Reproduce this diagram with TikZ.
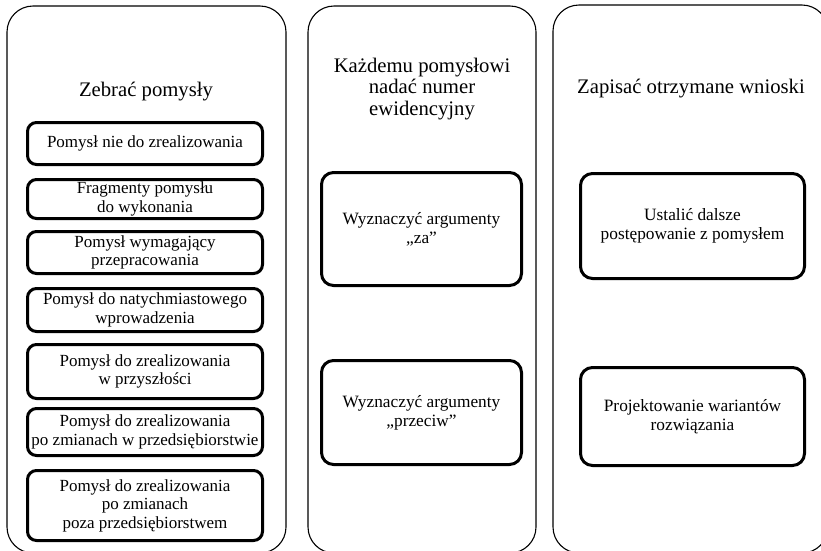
\documentclass[tikz,border=0pt]{standalone}
\usepackage{fontspec}
\setmainfont{Liberation Serif}
\usetikzlibrary{positioning}

\begin{document}
\begin{tikzpicture}[x=1pt, y=-1pt,
  column/.style={draw, line width=1.1pt, rounded corners=26pt},
  heading/.style={align=center, font=\fontsize{20.7}{21.5}\selectfont},
  idea/.style={draw, line width=3pt, rounded corners=9pt, align=center,
    inner sep=0pt, minimum width=235pt, font=\fontsize{17}{18.5}\selectfont},
  task/.style={draw, line width=3pt, rounded corners=12pt, align=center,
    inner sep=0pt, font=\fontsize{17.3}{19}\selectfont}]
  \useasboundingbox (0,0) rectangle (821,550);
  %--- three columns ---
  \draw[column] (7,6) rectangle (286,553);
  \draw[column] (308,6) rectangle (536,553);
  \draw[column] (553,5) rectangle (828,553);
  %--- left column: collect ideas ---
  \node[heading] (collect) at (146,92) {Zebrać pomysły};
  \node[idea, minimum height=42pt] (i1) at (145,143.5) {Pomysł nie do zrealizowania};
  \node[idea, minimum height=39pt] (i2) at (145,199) {Fragmenty pomysłu\\do wykonania};
  \node[idea, minimum height=42pt] (i3) at (145,252.5) {Pomysł wymagający\\przepracowania};
  \node[idea, minimum height=43pt] (i4) at (145,310) {Pomysł do natychmiastowego\\wprowadzenia};
  \node[idea, minimum height=54pt] (i5) at (145,371.5) {Pomysł do zrealizowania\\w przyszłości};
  \node[idea, minimum height=47pt] (i6) at (145,432) {Pomysł do zrealizowania\\po zmianach w przedsiębiorstwie};
  \node[idea, minimum height=70pt] (i7) at (145,505.5) {Pomysł do zrealizowania\\po zmianach\\poza przedsiębiorstwem};
  %--- middle column: number and arguments ---
  \node[heading] (number) at (422,89) {Każdemu pomysłowi\\nadać numer\\ewidencyjny};
  \node[task, minimum width=200pt, minimum height=113pt] (pro) at (421.5,229) {Wyznaczyć argumenty\\„za”};
  \node[task, minimum width=200pt, minimum height=104pt] (con) at (421.5,412.5) {Wyznaczyć argumenty\\„przeciw”};
  %--- right column: write down conclusions ---
  \node[heading] (notes) at (691,89) {Zapisać otrzymane wnioski};
  \node[task, minimum width=224pt, minimum height=105pt] (next) at (692.5,226) {Ustalić dalsze\\postępowanie z pomysłem};
  \node[task, minimum width=224pt, minimum height=98pt] (variants) at (692.5,416.5) {Projektowanie wariantów\\rozwiązania};
\end{tikzpicture}
\end{document}
